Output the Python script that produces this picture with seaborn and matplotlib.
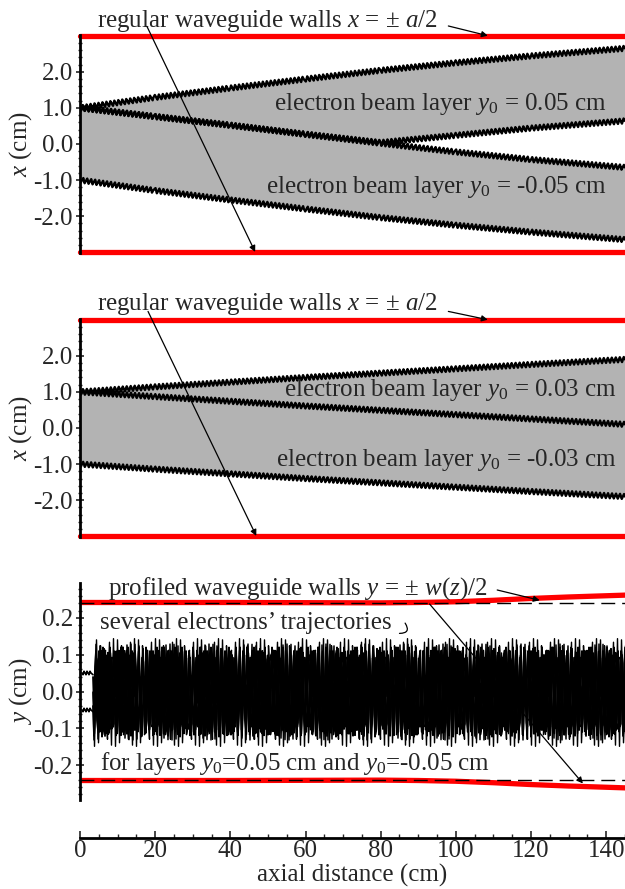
import matplotlib
matplotlib.use("Agg")
import matplotlib.pyplot as plt
from matplotlib.ticker import MultipleLocator, FormatStrFormatter
import numpy as np
import pandas as pd
import seaborn as sns

# ---------------- data ----------------
z_pts = [0, 20, 40, 60, 80, 100, 120, 145]
# panel 1 (y0 = +/-0.05 cm)
p1_upper = [1.0, 1.29, 1.55, 1.80, 2.04, 2.25, 2.44, 2.65]
p1_mid = [1.0, 0.76, 0.52, 0.27, 0.02, -0.22, -0.43, -0.65]
p1_lower = [1.0, 0.76, 0.52, 0.27, 0.04, 0.24, 0.44, 0.64]
p1_bottom = [-1.0, -1.29, -1.55, -1.80, -2.04, -2.25, -2.44, -2.65]
# panel 2 (y0 = +/-0.03 cm)
p2_upper = [1.0, 1.14, 1.27, 1.40, 1.52, 1.64, 1.76, 1.90]
p2_mid = [1.0, 0.87, 0.74, 0.61, 0.49, 0.37, 0.25, 0.10]
p2_bottom = [-1.0, -1.14, -1.27, -1.40, -1.52, -1.64, -1.76, -1.90]
# regular walls x = +/- a/2
wall_a_half = 3.0
# panel 3: profiled walls
wall_z = [0, 40, 80, 90, 100, 110, 120, 130, 145]
wall_half = [0.242, 0.242, 0.241, 0.242, 0.244, 0.248, 0.253, 0.257, 0.262]
wall_ref = 0.24
# trajectories (centre lines; oscillation drawn via line sketch style)
traj_z = [3.5, 145]
traj_centers = [0.0, 0.0, 0.0, 0.04, -0.04]
traj_init_y = [0.05, -0.05]
traj_init_z = [0.5, 3.5]

x_ticks_top = [-2.0, -1.0, 0.0, 1.0, 2.0]
y_ticks_bot = [-0.2, -0.1, 0.0, 0.1, 0.2]
z_ticks = [0, 20, 40, 60, 80, 100, 120, 140]

# ---------------- style ----------------
sns.set_theme(style="white")
plt.rcParams["font.family"] = ["Liberation Serif", "DejaVu Serif"]
plt.rcParams["mathtext.fontset"] = "custom"
plt.rcParams["mathtext.rm"] = "Liberation Serif"
plt.rcParams["mathtext.it"] = "Liberation Serif:italic"
plt.rcParams["mathtext.bf"] = "Liberation Serif:bold"
FS = 18

fig = plt.figure(figsize=(6.25, 8.89), dpi=100)
L, W = 80 / 625, 545 / 625
ax1 = fig.add_axes([L, 1 - 253 / 889, W, 218 / 889])
ax2 = fig.add_axes([L, 1 - 537 / 889, W, 218 / 889])
ax3 = fig.add_axes([L, 1 - 800 / 889, W, 217 / 889])

GRAY = "#b3b3b3"


def zig(ax, y):
    sns.lineplot(x=z_pts, y=y, ax=ax, color="black", lw=1.7, sort=False,
                 estimator=None)
    ax.lines[-1].set_sketch_params(2.5, 4.0, 1.0)


def style_top(ax):
    ax.set_xlim(0, 145)
    ax.set_ylim(-3.02, 3.02)
    for s in ["top", "right", "bottom"]:
        ax.spines[s].set_visible(False)
    ax.spines["left"].set_linewidth(2)
    ax.spines["left"].set_color("black")
    ax.set_xticks([])
    ax.set_yticks(x_ticks_top)
    ax.yaxis.set_major_formatter(FormatStrFormatter("%.1f"))
    ax.yaxis.set_minor_locator(MultipleLocator(0.2))
    ax.tick_params(axis="y", which="major", direction="inout", length=6,
                   width=1.2, labelsize=FS, left=True, pad=2)
    ax.tick_params(axis="y", which="minor", direction="inout", length=3,
                   width=1, left=True)
    ax.set_ylabel(r"$x$ (cm)", fontsize=FS, labelpad=0)
    ax.patch.set_alpha(0)


# ---- panel 1 ----
ax1.fill_between(z_pts, p1_upper, p1_lower, color=GRAY, lw=0)
ax1.fill_between(z_pts, p1_mid, p1_bottom, color=GRAY, lw=0)
for yv in (p1_upper, p1_mid, p1_lower, p1_bottom):
    zig(ax1, yv)
for yy in (wall_a_half, -wall_a_half):
    sns.lineplot(x=[0, 145], y=[yy, yy], ax=ax1, color="red", lw=3.8)
    ax1.lines[-1].set_clip_on(False)
style_top(ax1)
ax1.text(140.2, 1.10, r"electron beam layer $y_0$ = 0.05 cm", ha="right",
         va="center", fontsize=FS)
ax1.text(140.2, -1.19, r"electron beam layer $y_0$ = -0.05 cm", ha="right",
         va="center", fontsize=FS)

# ---- panel 2 ----
ax2.fill_between(z_pts, p2_upper, p2_bottom, color=GRAY, lw=0)
for yv in (p2_upper, p2_mid, p2_bottom):
    zig(ax2, yv)
for yy in (wall_a_half, -wall_a_half):
    sns.lineplot(x=[0, 145], y=[yy, yy], ax=ax2, color="red", lw=3.8)
    ax2.lines[-1].set_clip_on(False)
style_top(ax2)
ax2.text(142.8, 1.04, r"electron beam layer $y_0$ = 0.03 cm", ha="right",
         va="center", fontsize=FS)
ax2.text(142.8, -0.90, r"electron beam layer $y_0$ = -0.03 cm", ha="right",
         va="center", fontsize=FS)

# annotations for regular walls
for ax, ytxt, a1, a2 in ((ax1, 3.42, (98, 3.27), (17.8, 3.26)),
                         (ax2, 3.44, (98, 3.23), (18.1, 3.23))):
    ax.text(4.5, ytxt, r"regular waveguide walls $x$ = $\pm$ $a$/2",
            ha="left", va="center", fontsize=FS, clip_on=False)
    ax.annotate("", xy=(108.5, 3.0), xytext=a1, annotation_clip=False,
                arrowprops=dict(arrowstyle="-|>", color="black", lw=0.9,
                                mutation_scale=9, shrinkA=0, shrinkB=0))
    ax.annotate("", xy=(a2[0] + 28.8, -2.99), xytext=a2, annotation_clip=False,
                arrowprops=dict(arrowstyle="-|>", color="black", lw=0.9,
                                mutation_scale=9, shrinkA=0, shrinkB=0))

# ---- panel 3 ----
scales = [48, 54, 42, 30, 30]
lengths = [3.9, 4.2, 4.6, 3.6, 3.7]
widths = [1.1, 1.0, 1.0, 1.3, 1.3]
for yc, sc, lg, w in zip(traj_centers, scales, lengths, widths):
    sns.lineplot(x=traj_z, y=[yc, yc], ax=ax3, color="black", lw=w)
    ax3.lines[-1].set_sketch_params(sc, lg, 1.0)
for yi in traj_init_y:
    sns.lineplot(x=traj_init_z, y=[yi, yi], ax=ax3, color="black", lw=1.2)
    ax3.lines[-1].set_sketch_params(2, 3, 1.0)

for sgn in (1, -1):
    sns.lineplot(x=wall_z, y=[sgn * v for v in wall_half], ax=ax3,
                 color="red", lw=3.8)
    sns.lineplot(x=[0, 145], y=[sgn * wall_ref] * 2, ax=ax3, color="black",
                 lw=1.0)
    ax3.lines[-1].set_dashes([10, 5])

ax3.set_xlim(0, 145)
ax3.set_ylim(-0.295, 0.295)
for s in ["top", "right"]:
    ax3.spines[s].set_visible(False)
ax3.spines["left"].set_linewidth(2)
ax3.spines["bottom"].set_linewidth(2)
ax3.spines["left"].set_color("black")
ax3.spines["bottom"].set_color("black")
ax3.spines["bottom"].set_position(("outward", 27))
ax3.set_yticks(y_ticks_bot)
ax3.yaxis.set_major_formatter(FormatStrFormatter("%.1f"))
ax3.yaxis.set_minor_locator(MultipleLocator(0.02))
ax3.set_xticks(z_ticks)
ax3.xaxis.set_minor_locator(MultipleLocator(5))
ax3.tick_params(axis="y", which="major", direction="inout", length=6,
                width=1.2, labelsize=FS, left=True, pad=2)
ax3.tick_params(axis="y", which="minor", direction="inout", length=3,
                width=1, left=True)
ax3.tick_params(axis="x", which="major", direction="in", length=5,
                width=1.2, labelsize=FS, bottom=True, pad=2)
ax3.tick_params(axis="x", which="minor", direction="in", length=3,
                width=1, bottom=True)
ax3.set_ylabel(r"$y$ (cm)", fontsize=FS, labelpad=0)
ax3.set_xlabel("axial distance (cm)", fontsize=FS, labelpad=1)
ax3.patch.set_alpha(0)

ax3.text(7.4, 0.281, r"profiled waveguide walls $y$ = $\pm$ $w$($z$)/2",
         ha="left", va="center", fontsize=FS, clip_on=False)
ax3.annotate("", xy=(122.3, 0.248), xytext=(111.0, 0.276),
             annotation_clip=False,
             arrowprops=dict(arrowstyle="-|>", color="black", lw=0.9,
                             mutation_scale=9, shrinkA=0, shrinkB=0))
ax3.annotate("", xy=(133.8, -0.250), xytext=(93.0, 0.238),
             annotation_clip=False,
             arrowprops=dict(arrowstyle="-|>", color="black", lw=0.9,
                             mutation_scale=9, shrinkA=0, shrinkB=0))
ax3.text(5.3, 0.186, "several electrons\u2019 trajectories", ha="left",
         va="center", fontsize=FS)
ax3.annotate("", xy=(85.0, 0.158), xytext=(86.5, 0.186),
             arrowprops=dict(arrowstyle="-", color="black", lw=0.9,
                             connectionstyle="arc3,rad=-0.9",
                             shrinkA=0, shrinkB=0))
ax3.text(5.3, -0.197, r"for layers $y_0$=0.05 cm and $y_0$=-0.05 cm",
         ha="left", va="center", fontsize=FS)

fig.savefig("out.png", dpi=100)
